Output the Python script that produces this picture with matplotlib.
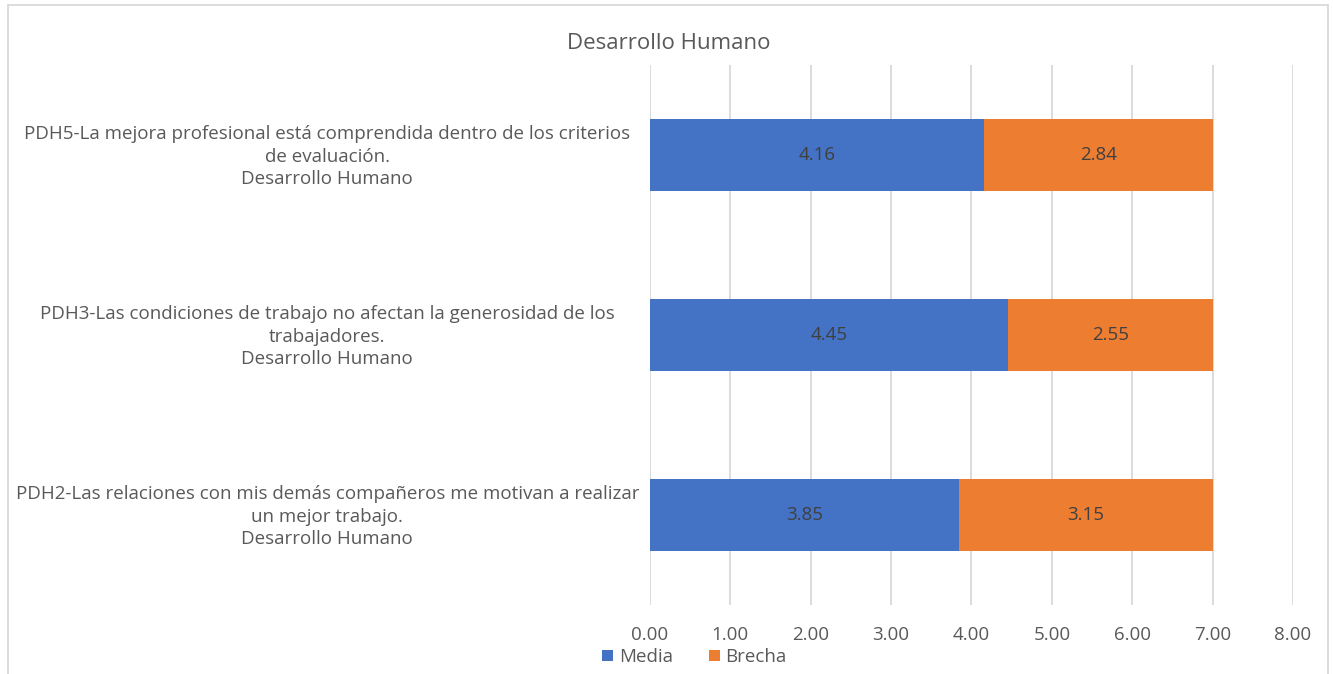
import matplotlib.pyplot as plt
from matplotlib.patches import Rectangle
from matplotlib.transforms import blended_transform_factory

plt.rcParams['font.family'] = ['Open Sans', 'DejaVu Sans']

categories = [
    "PDH2-Las relaciones con mis demás compañeros me motivan a realizar\nun mejor trabajo.\nDesarrollo Humano",
    "PDH3-Las condiciones de trabajo no afectan la generosidad de los\ntrabajadores.\nDesarrollo Humano",
    "PDH5-La mejora profesional está comprendida dentro de los criterios\nde evaluación.\nDesarrollo Humano",
]
media = [3.85, 4.45, 4.16]
brecha = [3.15, 2.55, 2.84]
x_ticks = [0, 1, 2, 3, 4, 5, 6, 7, 8]

text_color = "#595959"
blue = "#4472C4"
orange = "#ED7D31"

fig = plt.figure(figsize=(13.33, 6.74), dpi=100)
ax = fig.add_axes([0.4876, 0.1024, 0.4824, 0.8012])

ypos = range(len(categories))
ax.barh(ypos, media, height=0.4, color=blue, label="Media", zorder=3)
ax.barh(ypos, brecha, left=media, height=0.4, color=orange, label="Brecha", zorder=3)

# value labels inside bars
for i in ypos:
    ax.text(media[i] / 2, i, f"{media[i]:.2f}", ha="center", va="center",
            fontsize=13.5, color="#404040", zorder=4)
    ax.text(media[i] + brecha[i] / 2, i, f"{brecha[i]:.2f}", ha="center", va="center",
            fontsize=13.5, color="#404040", zorder=4)

ax.set_xlim(0, 8)
ax.set_ylim(-0.5, 2.5)
ax.set_xticks(x_ticks)
ax.set_xticklabels([f"{v:.2f}" for v in x_ticks], fontsize=13.5, color=text_color)
ax.set_yticks([])

# category labels, centred as blocks left of the bars
trans = blended_transform_factory(fig.transFigure, ax.transData)
for i, lab in zip(ypos, categories):
    ax.text(0.2455, i - 0.01, lab, transform=trans, ha="center", va="center",
            multialignment="center", fontsize=13.5, color=text_color,
            linespacing=1.33)

ax.tick_params(axis="x", length=0, pad=15)
ax.grid(axis="x", color="#D9D9D9", linewidth=1.3, zorder=0)
for s in ax.spines.values():
    s.set_visible(False)

fig.text(0.502, 0.935, "Desarrollo Humano", ha="center", va="center",
         fontsize=16, color=text_color)

ax.legend(loc="center", bbox_to_anchor=(0.521, 0.025), bbox_transform=fig.transFigure,
          ncol=2, frameon=False, fontsize=13.5, handlelength=0.6, handleheight=0.6,
          columnspacing=1.9, handletextpad=0.3, labelcolor=text_color)

# chart border
fig.patches.append(Rectangle((0.006, -0.01), 0.99, 1.003, transform=fig.transFigure,
                             fill=False, edgecolor="#D9D9D9", linewidth=1.3))

fig.savefig("out.png", dpi=100)
